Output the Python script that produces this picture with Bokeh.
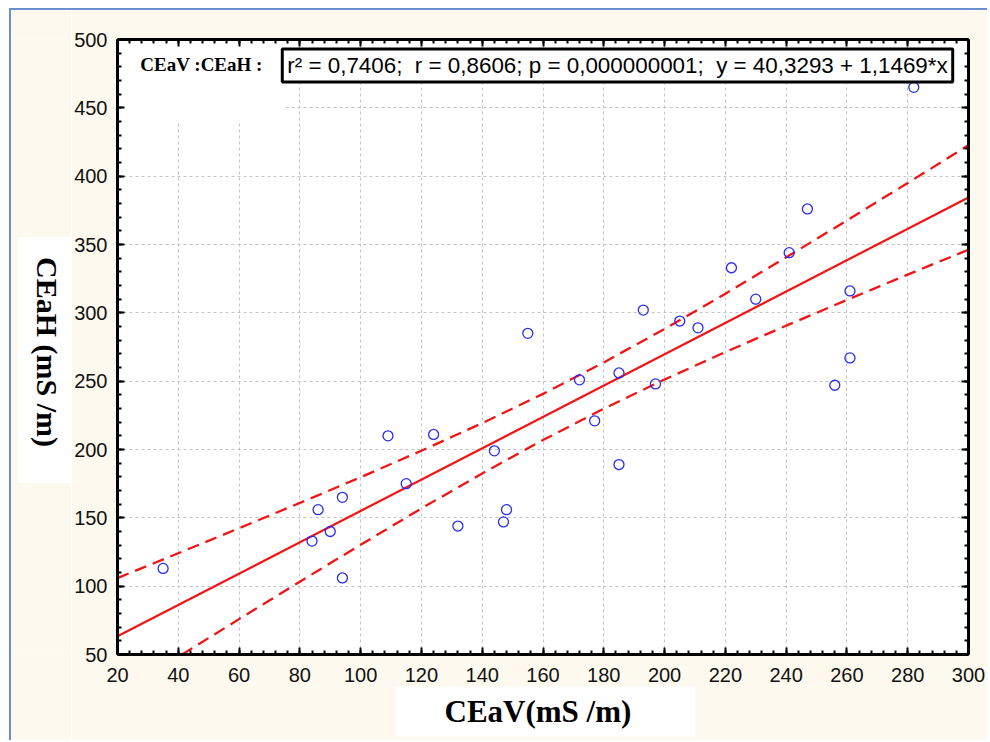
import math
from bokeh.plotting import figure
from bokeh.layouts import row
from bokeh.models import (Range1d, FixedTicker, LinearAxis, Label, BoxAnnotation,
                          CustomJSTickFormatter, Title)
from bokeh.embed import file_html
from bokeh.resources import INLINE

# ---- data ----
ceav = [35, 84, 86, 90, 94, 94, 109, 115, 124, 132, 144, 147, 148, 155, 172,
        177, 185, 185, 193, 197, 205, 211, 222, 230, 241, 247, 256, 261, 261, 282]
ceah = [113, 133, 156, 140, 165, 106, 210, 175, 211, 144, 199, 147, 156, 285, 251,
        221, 256, 189, 302, 248, 294, 289, 333, 310, 344, 376, 247, 316, 267, 465]

fit_x = [20, 300]
fit_y = [63.3, 384.4]

band_x = [20, 40, 60, 80, 100, 120, 140, 160, 180, 200, 220, 240, 260, 280, 300]
band_upper = [105.9, 124.1, 142.4, 160.9, 179.7, 199.1, 219.3, 240.7, 263.7,
              288.2, 314.0, 340.6, 367.6, 395.0, 422.6]
band_lower = [20.7, 48.3, 75.9, 103.3, 130.3, 156.9, 182.5, 206.9, 229.9,
              251.2, 271.3, 290.6, 309.4, 328.0, 346.2]

x_ticks = [20, 40, 60, 80, 100, 120, 140, 160, 180, 200, 220, 240, 260, 280, 300]
y_ticks = [50, 100, 150, 200, 250, 300, 350, 400, 450, 500]

legend_name = "CEaV :CEaH :"
legend_stats = ("r² = 0,7406;\u00a0\u00a0r = 0,8606; p = 0,000000001;"
                "\u00a0\u00a0y = 40,3293 + 1,1469*x")
x_title = "CEaV(mS /m)"
y_title = "CEaH (mS /m)"

# ---- styling ----
CREAM = "#FEF9EE"
RED = "#F01414"
BLUE = "#2A2AF2"
H = 730

x_minor = list(range(20, 301, 4))
y_minor = list(range(50, 501, 10))

# narrow strip on the left carrying the vertical axis title
side = figure(width=60, height=H, x_range=Range1d(0, 1), y_range=Range1d(0, 1),
              output_backend="svg", toolbar_location=None,
              x_axis_location=None, y_axis_location=None,
              min_border=0, outline_line_color=None,
              background_fill_color=CREAM, border_fill_color=CREAM)
side.grid.visible = False
side.add_layout(Label(x=36, y=294.5, x_units="screen", y_units="screen",
                      text=y_title, angle=-math.pi / 2,
                      text_align="center", text_baseline="middle",
                      text_font="Liberation Serif", text_font_style="bold",
                      text_font_size="30px", text_color="black",
                      background_fill_color="white",
                      padding=dict(left=20, right=36, top=13, bottom=13)))

p = figure(width=916, height=H,
           x_range=Range1d(20, 300), y_range=Range1d(50, 500),
           output_backend="svg", toolbar_location=None,
           background_fill_color="white", border_fill_color=CREAM,
           min_border_left=45, min_border_right=19,
           min_border_top=29, min_border_bottom=86,
           outline_line_color=None)

xt = FixedTicker(ticks=x_ticks, minor_ticks=x_minor)
yt = FixedTicker(ticks=y_ticks, minor_ticks=y_minor)


def style_axis(ax, ticker, labels=True):
    ax.ticker = ticker
    ax.axis_line_color = "black"
    ax.axis_line_width = 3
    ax.major_tick_in = 7
    ax.major_tick_out = 0
    ax.minor_tick_in = 4
    ax.minor_tick_out = 0
    ax.major_tick_line_color = "black"
    ax.major_tick_line_width = 2
    ax.minor_tick_line_color = "black"
    ax.minor_tick_line_width = 2
    ax.major_label_text_font = "Liberation Sans"
    ax.major_label_text_font_size = "20px"
    ax.major_label_text_color = "#111111"
    ax.major_label_standoff = 10
    if not labels:
        ax.formatter = CustomJSTickFormatter(code="return ''")
        ax.major_label_standoff = 0


style_axis(p.xaxis[0], xt)
style_axis(p.yaxis[0], yt)
p.xaxis[0].major_label_standoff = 13
top_ax = LinearAxis()
right_ax = LinearAxis()
style_axis(top_ax, xt, labels=False)
style_axis(right_ax, yt, labels=False)
p.add_layout(top_ax, "above")
p.add_layout(right_ax, "right")

p.xgrid.ticker = xt
p.ygrid.ticker = yt
for g in (p.xgrid, p.ygrid):
    g.grid_line_color = "#C4C4C4"
    g.grid_line_dash = "3 3"
    g.grid_line_width = 1

# white area behind the legend name
p.add_layout(BoxAnnotation(left=20, right=74.9, top=500, bottom=440.7,
                           fill_color="white", fill_alpha=1.0,
                           line_alpha=0.0, level="glyph"))

p.line(band_x, band_upper, line_color=RED, line_width=2.3, line_dash="12 7")
p.line(band_x, band_lower, line_color=RED, line_width=2.3, line_dash="12 7")
p.line(fit_x, fit_y, line_color=RED, line_width=2.2)
p.scatter(ceav, ceah, marker="circle", size=10, fill_color=None,
          line_color=BLUE, line_width=1.3)

p.add_layout(Label(x=84, y=590, x_units="screen", y_units="screen",
                   text=legend_name, text_align="center", text_baseline="middle",
                   text_font="Liberation Serif", text_font_style="bold",
                   text_font_size="19px", text_color="black"))

p.add_layout(Label(x=500, y=589, x_units="screen", y_units="screen",
                   text=legend_stats, text_align="center", text_baseline="middle",
                   text_font="Liberation Sans", text_font_size="22.4px",
                   text_color="black", background_fill_color="white",
                   border_line_color="black", border_line_width=3,
                   padding=dict(left=5, right=5, top=4, bottom=4)))

p.add_layout(Title(text=x_title, align="left", offset=278, standoff=0,
                   text_font="Liberation Serif", text_font_style="bold",
                   text_font_size="31px", text_color="black",
                   background_fill_color="white",
                   padding=dict(left=49, right=64, top=7, bottom=8)), "below")

layout = row(side, p, styles={"margin-left": "9px", "margin-top": "8px",
                              "border-left": "2px solid #6A8FCB",
                              "border-top": "2px solid #6A8FCB"})

open("out.html", "w").write(file_html(layout, INLINE))
